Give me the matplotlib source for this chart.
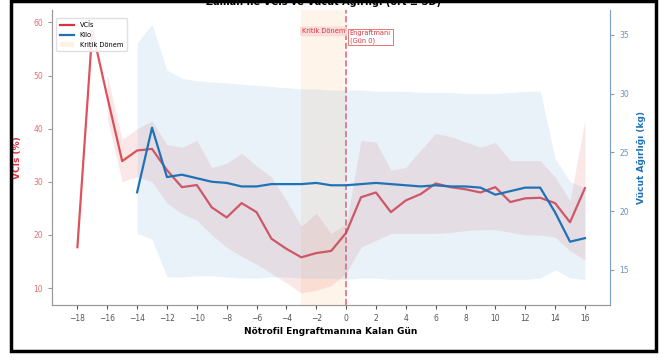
import numpy as np
import matplotlib.pyplot as plt
from matplotlib.patches import Rectangle, Patch
from matplotlib.lines import Line2D

# VCI (%) by day relative to neutrophil engraftment
days = np.arange(-18, 17)
vci_mean = [17.7, 58.5, 46.0, 33.9, 35.9, 36.2, 32.2, 29.0, 29.4, 25.2,
            23.3, 26.0, 24.3, 19.3, 17.4, 15.8, 16.6, 17.0, 20.4, 27.1,
            28.0, 24.3, 26.5, 27.7, 29.7, 29.0, 28.6, 28.0, 29.0, 26.2,
            26.9, 27.0, 26.0, 22.4, 28.8]
vci_lo = [np.nan, np.nan, 42.0, 30.0, 31.0, 30.0, 26.0, 24.0, 22.8, 20.0,
          17.7, 16.0, 14.5, 12.8, 11.0, 9.1, 9.6, 10.5, 12.8, 17.7,
          19.0, 20.3, 20.3, 20.3, 20.3, 20.5, 20.8, 21.0, 21.0, 20.5,
          20.0, 20.0, 19.6, 17.0, 15.3]
vci_hi = [np.nan, np.nan, 50.0, 38.0, 40.0, 41.5, 37.0, 36.5, 37.8, 32.7,
          33.5, 35.4, 33.0, 30.9, 26.5, 21.6, 24.1, 20.3, 22.0, 37.8,
          37.5, 32.2, 32.7, 36.0, 39.1, 38.5, 37.5, 36.5, 37.4, 34.0,
          34.0, 34.0, 30.9, 26.5, 41.6]

# body weight (kg), recorded from day -14
kg_days = np.arange(-14, 17)
kg_mean = [21.6, 27.1, 22.9, 23.1, 22.8, 22.5, 22.4, 22.1, 22.1, 22.3,
           22.3, 22.3, 22.4, 22.2, 22.2, 22.3, 22.4, 22.3, 22.2, 22.1,
           22.2, 22.1, 22.1, 22.0, 21.4, 21.7, 22.0, 22.0, 19.9, 17.4, 17.7]
kg_lo = [18.1, 17.6, 14.4, 14.4, 14.5, 14.5, 14.4, 14.3, 14.3, 14.4,
         14.4, 14.3, 14.3, 14.3, 14.2, 14.3, 14.3, 14.2, 14.2, 14.2,
         14.2, 14.2, 14.2, 14.2, 14.2, 14.2, 14.2, 14.3, 15.0, 14.3, 14.2]
kg_hi = [34.3, 35.9, 32.0, 31.3, 31.1, 31.0, 30.9, 30.8, 30.7, 30.6,
         30.5, 30.4, 30.4, 30.3, 30.3, 30.3, 30.2, 30.2, 30.2, 30.1,
         30.1, 30.1, 30.0, 30.0, 30.0, 30.1, 30.2, 30.2, 24.5, 22.5, 22.0]

critical_window = (-3, 0)

RED = '#d8343f'
BLUE = '#1f72b8'

fig = plt.figure(figsize=(6.67, 3.62), dpi=100)
ax = fig.add_axes([0.078, 0.157, 0.837, 0.815])
ax2 = ax.twinx()

# critical window and day 0 marker
ax.axvspan(*critical_window, color='#ffa94d', alpha=0.12, lw=0, zorder=0)
ax.axvline(0, color=RED, ls='--', lw=1.2, alpha=0.7, zorder=1)

# bands
ax.fill_between(days, vci_lo, vci_hi, color='#e05a5a', alpha=0.14, lw=0)
ax2.fill_between(kg_days, kg_lo, kg_hi, color='#5b9bd5', alpha=0.13, lw=0)

# mean lines
ax.plot(days, vci_mean, color=RED, lw=1.6, alpha=0.85, zorder=3)
ax2.plot(kg_days, kg_mean, color=BLUE, lw=1.6, zorder=3)

ax.set_xlim(-19.7, 17.7)
ax.set_ylim(6.8, 62.3)
ax2.set_ylim(12.0, 37.1)
ax.set_xticks(np.arange(-18, 17, 2))
ax.set_yticks([10, 20, 30, 40, 50, 60])
ax2.set_yticks([15, 20, 25, 30, 35])

ax.tick_params(axis='x', labelsize=5.5, colors='#555555', length=3)
ax.tick_params(axis='y', labelsize=5.5, colors='#999999', labelcolor='#e07070', length=3)
ax2.tick_params(axis='y', labelsize=5.5, colors='#999999', labelcolor='#6a93bb', length=3)

for a in (ax, ax2):
    a.spines['top'].set_visible(False)
    for s in ('left', 'right', 'bottom'):
        a.spines[s].set_color('#999999')
        a.spines[s].set_linewidth(0.8)
ax2.spines['right'].set_color('#7fa3c6')

ax.set_xlabel('Nötrofil Engraftmanına Kalan Gün', fontsize=6.5, fontweight='bold', labelpad=3)
ax.set_ylabel('VCİs (%)', fontsize=6.5, fontweight='bold', color=RED, labelpad=8)
ax2.set_ylabel('Vücut Ağırlığı (kg)', fontsize=6.5, fontweight='bold', color=BLUE, labelpad=6)

# annotations at the top
ax.text(-1.5, 58.3, 'Kritik Dönem', fontsize=4.8, color=RED, ha='center', va='center',
        bbox=dict(boxstyle='round,pad=0.3', fc='#fbd6d6', ec='none', alpha=0.8), zorder=4)
ax.text(0.25, 58.6, 'Engraftmanı\n(Gün 0)', fontsize=4.8, color=RED, ha='left', va='top',
        linespacing=1.3,
        bbox=dict(boxstyle='square,pad=0.25', fc='white', ec='#e06060', lw=0.6), zorder=4)

handles = [Line2D([], [], color=RED, lw=1.6),
           Line2D([], [], color=BLUE, lw=1.6),
           Patch(facecolor='#ffa94d', alpha=0.15, edgecolor='none')]
ax.legend(handles, ['VCİs', 'Kilo', 'Kritik Dönem'], loc='upper left', fontsize=4.8,
          frameon=True, framealpha=0.9, edgecolor='#dddddd', handlelength=2.2,
          borderpad=0.5, labelspacing=0.6, bbox_to_anchor=(0.002, 0.985))

fig.text(0.485, 0.998, 'Zaman ile VCİs ve Vücut Ağırlığı (ort ± SD)', fontsize=7,
         fontweight='bold', ha='center', va='center')

# outer black frame
fig.patches.append(Rectangle((11 / 667, 11 / 362), 645 / 667, 350 / 362,
                             transform=fig.transFigure, fill=False,
                             ec='black', lw=2.5, zorder=10))

fig.savefig('out.png', dpi=100)
